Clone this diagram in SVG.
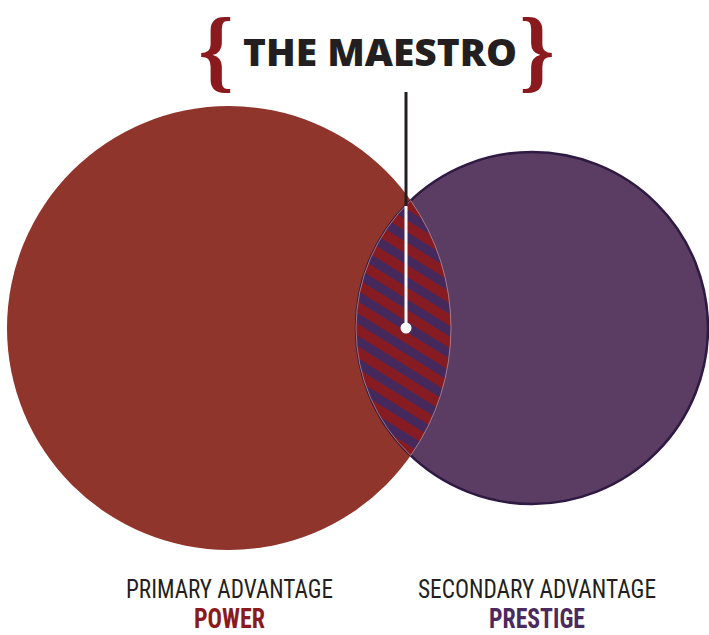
<svg xmlns="http://www.w3.org/2000/svg" width="709" height="635" viewBox="0 0 709 635">
<style>
.brace{font-family:"Liberation Serif","DejaVu Serif",serif;font-weight:bold;font-size:90px;fill:#8b1a1f;text-anchor:middle}
.title{font-family:"Open Sans","Liberation Sans",sans-serif;font-weight:800;font-size:37px;fill:#231f20;text-anchor:middle}
.lab{font-family:"Liberation Sans Narrow","Roboto Condensed","Liberation Sans",sans-serif;font-size:25px;fill:#231f20;text-anchor:middle}
.big{font-family:"Liberation Sans Narrow","Roboto Condensed","Liberation Sans",sans-serif;font-weight:bold;font-size:27px;text-anchor:middle}
</style>
<defs>
<pattern id="stripes" patternUnits="userSpaceOnUse" width="19" height="19" patternTransform="rotate(32)">
<rect width="19" height="19" fill="#861b22"/>
<rect width="19" height="9" fill="#45285c"/>
</pattern>
</defs>
<rect width="709" height="635" fill="#ffffff"/>
<g id="power-circle"><circle cx="229" cy="328" r="222" fill="#8f352b"/></g>
<g id="prestige-circle"><circle cx="532" cy="328" r="176" fill="#5b3d64" stroke="#2e1a42" stroke-width="2.5"/></g>
<g id="maestro-overlap"><path d="M410.7,200.5 A176,176 0 0 0 410.7,455.5 A222,222 0 0 0 410.7,200.5 Z" fill="url(#stripes)" stroke="#b98a96" stroke-width="0.8"/></g>
<g id="connectors">
<line x1="406" y1="92" x2="406" y2="206" stroke="#231f20" stroke-width="3"/>
<line x1="406" y1="206" x2="406" y2="328" stroke="#ffffff" stroke-width="3"/>
<circle cx="406" cy="328" r="5.5" fill="#ffffff"/>
</g>
<g id="title">
<text class="brace" x="216" y="80">{</text>
<text class="title" x="380" y="66" textLength="274" lengthAdjust="spacingAndGlyphs">THE MAESTRO</text>
<text class="brace" x="537" y="80">}</text>
</g>
<g id="label-power">
<text class="lab" x="229.5" y="598" textLength="207" lengthAdjust="spacingAndGlyphs">PRIMARY ADVANTAGE</text>
<text class="big" x="229.5" y="628" fill="#8b1a1f" textLength="71" lengthAdjust="spacingAndGlyphs">POWER</text>
</g>
<g id="label-prestige">
<text class="lab" x="537" y="598" textLength="238" lengthAdjust="spacingAndGlyphs">SECONDARY ADVANTAGE</text>
<text class="big" x="537" y="628" fill="#4b2a5e" textLength="96" lengthAdjust="spacingAndGlyphs">PRESTIGE</text>
</g>
</svg>
